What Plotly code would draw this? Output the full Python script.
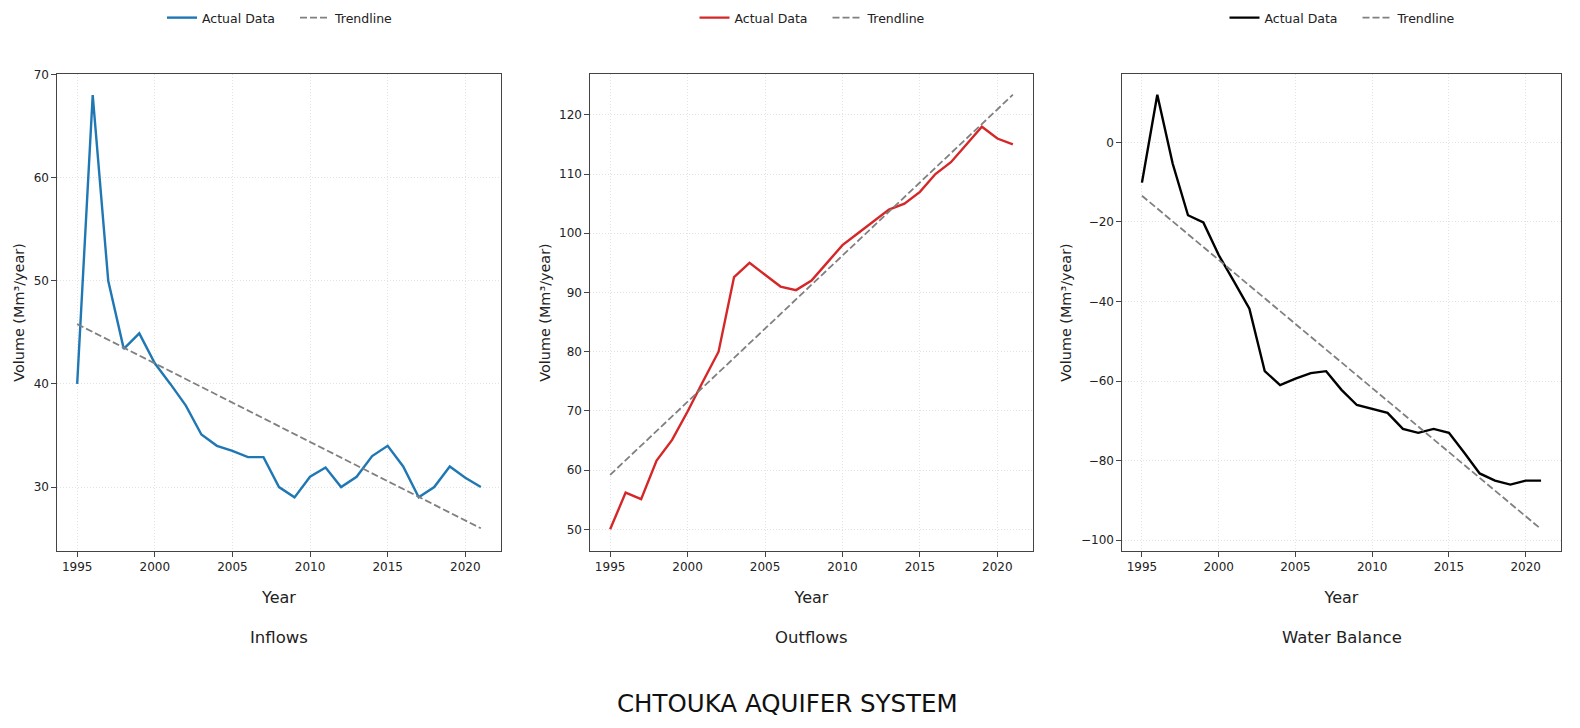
import plotly.graph_objects as go

years = list(range(1995, 2022))

inflows = [40, 68, 50, 43.4, 44.9, 42, 40, 37.9, 35.1, 34, 33.5, 32.9, 32.9, 30, 29,
           31, 31.9, 30, 31, 33, 34, 32, 29, 30, 32, 30.9, 30]
outflows = [50, 56.2, 55.1, 61.6, 65.1, 69.9, 75, 80, 92.6, 95, 93, 91, 90.4, 92, 95,
            98, 100, 102, 104, 105, 107, 110, 112, 115, 118, 116, 115]
balance = [-10.1, 12, -5.3, -18.3, -20.1, -28.3, -35, -41.8, -57.5, -61, -59.4, -58, -57.5,
           -62.2, -66, -67, -68, -72, -73, -72, -73, -78, -83.2, -85, -86, -85, -85]

trend_years = [1995, 2021]
trend_in = [45.8, 26.0]
trend_out = [59.2, 123.4]
trend_bal = [-13.4, -97.2]

panel_titles = ["Inflows", "Outflows", "Water Balance"]
main_title = "CHTOUKA AQUIFER SYSTEM"
y_title = "Volume (Mm³/year)"
x_title = "Year"
colors = ["#1f77b4", "#d62728", "#000000"]

# page body has an 8px margin; figure is sized to fit inside the window
OFF = 8
W, H = 1580 - 2 * OFF, 728 - 2 * OFF


def fx(px):
    return (px - OFF) / W


def fy(py):
    return 1 - (py - OFF) / H


px_x = [(57, 501), (590, 1033), (1122, 1561)]
top_px, bot_px = 74, 551
y_ranges = [[23.8, 70.05], [46.34, 126.9], [-102.7, 17.2]]
y_dticks = [10, 10, 20]

FONT = "DejaVu Sans"
fig = go.Figure()

series = [inflows, outflows, balance]
trends = [trend_in, trend_out, trend_bal]
legend_names = ["legend", "legend2", "legend3"]

for i in range(3):
    xa = "x" if i == 0 else f"x{i+1}"
    ya = "y" if i == 0 else f"y{i+1}"
    fig.add_trace(go.Scatter(x=years, y=series[i], mode="lines", name="Actual Data",
                             line=dict(color=colors[i], width=2.4),
                             xaxis=xa, yaxis=ya, legend=legend_names[i]))
    fig.add_trace(go.Scatter(x=trend_years, y=trends[i], mode="lines", name="Trendline",
                             line=dict(color="#808080", width=1.8, dash="7px,3px"),
                             xaxis=xa, yaxis=ya, legend=legend_names[i]))

layout = dict(
    width=W, height=H,
    margin=dict(l=0, r=0, t=0, b=0, autoexpand=False),
    paper_bgcolor="white", plot_bgcolor="white",
    font=dict(family=FONT, size=12, color="#222"),
    showlegend=True,
    annotations=[],
)

axis_common = dict(showline=True, linecolor="#444", linewidth=1.2, mirror=True,
                   ticks="outside", ticklen=4.5, tickwidth=1, tickcolor="#444",
                   showgrid=True, gridcolor="#e3e3e3", gridwidth=0.8, griddash="1px,2px",
                   zeroline=False, automargin=False,
                   tickfont=dict(family=FONT, size=12, color="#222"))

for i in range(3):
    l, r = px_x[i]
    xd = [fx(l), fx(r)]
    yd = [fy(bot_px), fy(top_px)]
    xk = "xaxis" if i == 0 else f"xaxis{i+1}"
    yk = "yaxis" if i == 0 else f"yaxis{i+1}"
    xa_anchor = "y" if i == 0 else f"y{i+1}"
    ya_anchor = "x" if i == 0 else f"x{i+1}"
    layout[xk] = dict(axis_common, domain=xd, anchor=xa_anchor, range=[1993.7, 2022.3],
                      tickmode="linear", tick0=1995, dtick=5,
                      title=dict(text=x_title, font=dict(family=FONT, size=16, color="#222"),
                                 standoff=18))
    layout[yk] = dict(axis_common, domain=yd, anchor=ya_anchor, range=y_ranges[i],
                      tickmode="linear", tick0=0, dtick=y_dticks[i],
                      title=dict(text=y_title, font=dict(family=FONT, size=14.4, color="#222"),
                                 standoff=5))
    cx = fx((l + r) / 2)
    layout[legend_names[i]] = dict(orientation="h", x=fx((l + r) / 2 + 16), xanchor="center",
                                   y=fy(18), yanchor="middle",
                                   font=dict(family=FONT, size=12.5, color="#222"),
                                   bgcolor="rgba(0,0,0,0)", itemwidth=30,
                                   entrywidth=88, entrywidthmode="pixels")
    layout["annotations"].append(dict(text=panel_titles[i], x=cx, y=fy(637),
                                      xref="paper", yref="paper", showarrow=False,
                                      xanchor="center", yanchor="middle",
                                      font=dict(family=FONT, size=16.5, color="#222")))

layout["annotations"].append(dict(text=main_title, x=fx(787), y=fy(703),
                                  xref="paper", yref="paper", showarrow=False,
                                  xanchor="center", yanchor="middle",
                                  font=dict(family=FONT, size=24.5, color="#111")))

fig.update_layout(**layout)
fig.write_html("out.html")
